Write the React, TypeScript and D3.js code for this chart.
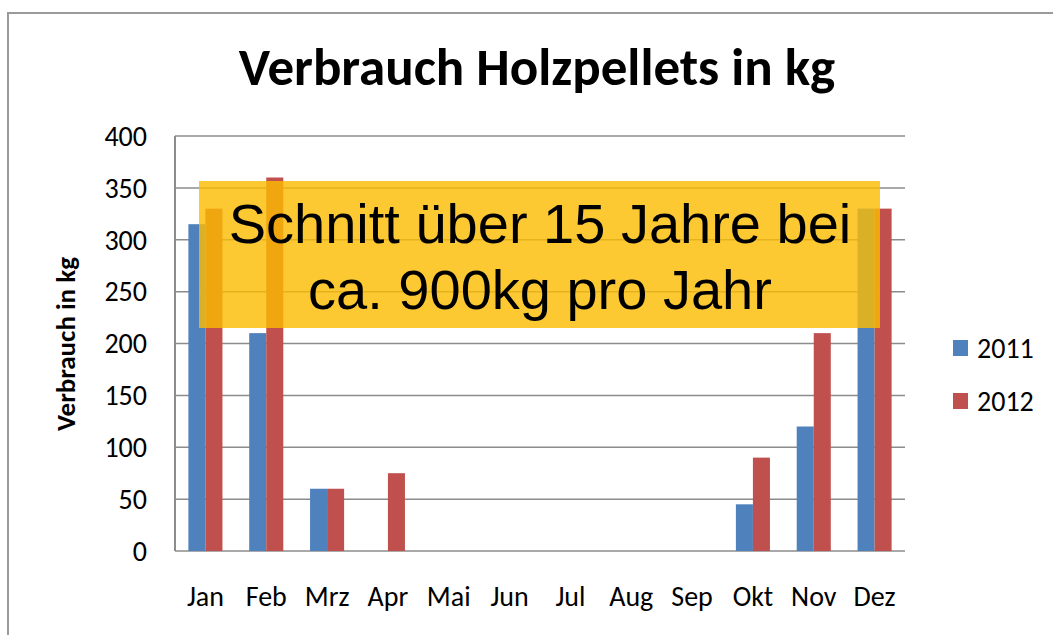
import React from "react";
import * as d3 from "d3";

const months = ["Jan", "Feb", "Mrz", "Apr", "Mai", "Jun", "Jul", "Aug", "Sep", "Okt", "Nov", "Dez"];
const series = ["2011", "2012"];
const values2011 = [315, 210, 60, 0, 0, 0, 0, 0, 0, 45, 120, 330];
const values2012 = [330, 360, 60, 75, 0, 0, 0, 0, 0, 90, 210, 330];
const yTicks = [0, 50, 100, 150, 200, 250, 300, 350, 400];
const colors = ["#4F81BD", "#C0504D"];
const title = "Verbrauch Holzpellets in kg";
const yTitle = "Verbrauch in kg";
const noteLines = ["Schnitt über 15 Jahre bei", "ca. 900kg pro Jahr"];

const W = 1053;
const H = 635;
const left = 175, right = 905, top = 136, bottom = 551;
const calibri = "Carlito, Lato, 'Open Sans', sans-serif";

export default function App() {
  const x0 = d3.scaleBand<string>().domain(months).range([left, right]).paddingInner(0.44).paddingOuter(0.22);
  const x1 = d3.scaleBand<string>().domain(series).range([0, x0.bandwidth()]);
  const y = d3.scaleLinear().domain([0, 400]).range([bottom, top]);
  const data = [values2011, values2012];

  return (
    <svg width={W} height={H} style={{ position: "absolute", left: 0, top: 0, background: "#fff" }}>
      <rect x={0} y={0} width={W} height={H} fill="#fff" />
      {/* outer frame */}
      <path d={`M8,${H + 5} L8,13 L${W + 5},13`} fill="none" stroke="#9a9a9a" strokeWidth={2} />
      <text x={537} y={85} textAnchor="middle" fontFamily={calibri} fontWeight={700} fontSize={53} fill="#000">
        {title}
      </text>
      {/* gridlines */}
      {yTicks.map((t) => (
        <line key={t} x1={left} x2={right} y1={y(t)} y2={y(t)} stroke="#8c8c8c" strokeWidth={1.5} />
      ))}
      <line x1={left} x2={left} y1={top} y2={bottom} stroke="#8c8c8c" strokeWidth={2} />
      {/* y tick labels */}
      {yTicks.map((t) => (
        <text key={t} x={147} y={y(t)} dy="0.35em" textAnchor="end" fontFamily={calibri} fontSize={28} fill="#000">
          {t}
        </text>
      ))}
      {/* bars */}
      {months.map((m, i) => (
        <g key={m}>
          {series.map((s, j) => {
            const v = data[j][i];
            if (!v) return null;
            return (
              <rect
                key={s}
                x={(x0(m) as number) + (x1(s) as number)}
                y={y(v)}
                width={x1.bandwidth()}
                height={y(0) - y(v)}
                fill={colors[j]}
              />
            );
          })}
          <text
            x={(x0(m) as number) + x0.bandwidth() / 2}
            y={606}
            textAnchor="middle"
            fontFamily={calibri}
            fontSize={28}
            fill="#000"
          >
            {m}
          </text>
        </g>
      ))}
      {/* y title */}
      <text
        transform={`translate(75,344) rotate(-90)`}
        textAnchor="middle"
        fontFamily={calibri}
        fontWeight={700}
        fontSize={27}
        fill="#000"
      >
        {yTitle}
      </text>
      {/* legend */}
      {series.map((s, j) => (
        <g key={s} transform={`translate(953,${340 + j * 53})`}>
          <rect x={0} y={0} width={15} height={16} fill={colors[j]} />
          <text x={24} y={8} dy="0.35em" fontFamily={calibri} fontSize={28} fill="#000">
            {s}
          </text>
        </g>
      ))}
      {/* note box */}
      <rect x={199} y={181} width={681} height={147} fill="#FBBC00" fillOpacity={0.8} />
      {noteLines.map((l, i) => (
        <text
          key={i}
          x={540}
          y={243 + i * 66}
          textAnchor="middle"
          fontFamily="'Liberation Sans', Arial, sans-serif"
          fontSize={56}
          fill="#000"
        >
          {l}
        </text>
      ))}
    </svg>
  );
}
